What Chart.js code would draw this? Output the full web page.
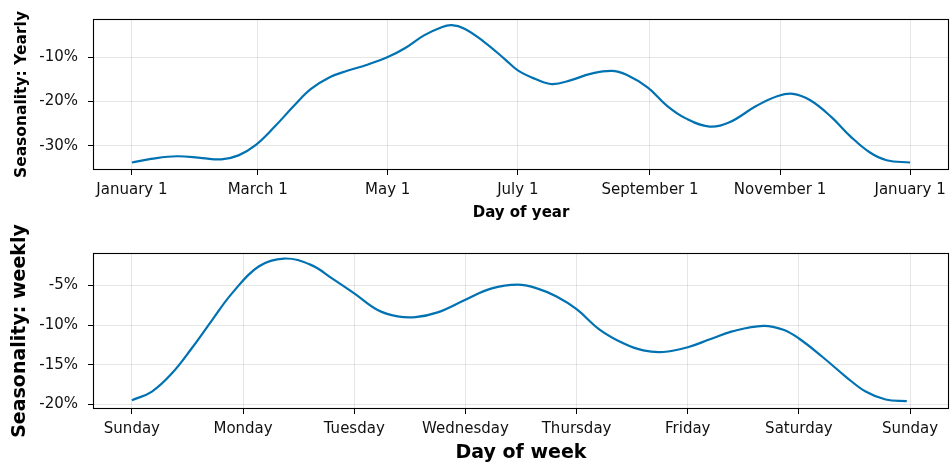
<!DOCTYPE html>
<html>
<head>
<meta charset="utf-8">
<script src="https://cdn.jsdelivr.net/npm/chart.js@4/dist/chart.umd.min.js"></script>
<style>
  html, body { margin: 0; padding: 0; background: #fff; }
  #wrap { position: relative; width: 952px; height: 468px; }
  canvas { position: absolute; left: 0; }
  #yearly { top: 0; }
  #weekly { top: 190px; }
</style>
</head>
<body>
<div id="wrap">
  <canvas id="yearly" width="952" height="234"></canvas>
  <canvas id="weekly" width="952" height="278"></canvas>
</div>
<script>
// Yearly seasonality: day of year -> effect in percent
const yearDays = [0, 9, 21, 33, 42, 50, 58, 67, 76, 84, 93, 101, 110, 120, 128, 137, 145, 150, 156, 165, 175, 181, 189, 197, 206, 215, 225, 232, 242, 251, 260, 271, 280, 293, 303, 310, 318, 328, 337, 346, 354, 365];
const yearlyValues = [-33.8, -33.0, -32.4, -32.8, -33.1, -32.2, -29.9, -25.7, -21.0, -17.2, -14.5, -13.1, -11.8, -10.0, -8.0, -5.1, -3.3, -2.8, -3.6, -6.5, -10.5, -13.0, -14.9, -16.1, -15.2, -13.8, -13.1, -14.0, -16.9, -21.0, -23.9, -25.7, -24.8, -21.0, -18.8, -18.3, -19.7, -23.5, -27.9, -31.5, -33.3, -33.8];
const yearTickDays = [0, 59, 120, 181, 243, 304, 365];
const yearTickLabels = ['January 1', 'March 1', 'May 1', 'July 1', 'September 1', 'November 1', 'January 1'];
const yearlyPctTicks = [-30, -20, -10];

// Weekly seasonality: position in week (0 = Sunday) -> effect in percent
const weekPos = [0, 0.18, 0.36, 0.54, 0.72, 0.9, 1.14, 1.37, 1.61, 1.8, 2.0, 2.21, 2.39, 2.55, 2.75, 3.0, 3.23, 3.47, 3.65, 3.82, 4.0, 4.21, 4.42, 4.6, 4.78, 5.0, 5.2, 5.4, 5.68, 5.86, 6.0, 6.21, 6.42, 6.6, 6.78, 6.97];
const weeklyValues = [-19.5, -18.4, -16.1, -12.9, -9.4, -6.0, -2.6, -1.6, -2.4, -4.1, -6.0, -8.1, -8.9, -9.0, -8.4, -6.8, -5.4, -4.9, -5.4, -6.4, -8.0, -10.6, -12.3, -13.2, -13.4, -12.8, -11.8, -10.8, -10.1, -10.6, -11.7, -14.0, -16.5, -18.4, -19.4, -19.6];
const weekTickPos = [0, 1, 2, 3, 4, 5, 6, 7];
const weekTickLabels = ['Sunday', 'Monday', 'Tuesday', 'Wednesday', 'Thursday', 'Friday', 'Saturday', 'Sunday'];
const weeklyPctTicks = [-20, -15, -10, -5];

Chart.defaults.font.family = "'DejaVu Sans', sans-serif";
Chart.defaults.color = '#000';

const LINE_COLOR = '#0072B2';
const GRID_COLOR = 'rgba(128,128,128,0.2)';

// Black box around the plotting area
const framePlugin = {
  id: 'frame',
  afterDraw(chart) {
    const { ctx, chartArea: a } = chart;
    ctx.save();
    ctx.strokeStyle = '#000';
    ctx.lineWidth = 1.1;
    ctx.strokeRect(Math.round(a.left) + 0.5, Math.round(a.top) + 0.5,
                   Math.round(a.right - a.left) - 1, Math.round(a.bottom - a.top) - 1);
    ctx.restore();
  }
};

function makeChart(id, cfg) {
  const points = cfg.xs.map((x, i) => ({ x: x, y: cfg.ys[i] }));
  return new Chart(document.getElementById(id), {
    type: 'line',
    data: {
      datasets: [{
        data: points,
        borderColor: LINE_COLOR,
        borderWidth: 2.2,
        pointRadius: 0,
        fill: false,
        tension: 0.4
      }]
    },
    options: {
      responsive: false,
      animation: false,
      devicePixelRatio: 1,
      layout: { padding: { left: 0, right: 3, top: cfg.padTop, bottom: 0 } },
      plugins: { legend: { display: false }, tooltip: { enabled: false } },
      scales: {
        x: {
          type: 'linear',
          min: cfg.xMin,
          max: cfg.xMax,
          afterBuildTicks: s => { s.ticks = cfg.xTicks.map(v => ({ value: v })); },
          afterFit: s => { s.height = cfg.xAxisHeight; },
          ticks: {
            autoSkip: false,
            maxRotation: 0,
            padding: cfg.xTickPad,
            font: { size: 15 },
            color: '#111',
            callback: (v, i) => cfg.xLabels[i]
          },
          grid: { color: GRID_COLOR, lineWidth: 1, tickLength: 5, tickColor: '#000', tickWidth: 1 },
          border: { display: false },
          title: {
            display: true,
            text: cfg.xTitle,
            font: { size: cfg.titleSize, weight: 'bold' },
            padding: { top: 0, bottom: cfg.xTitlePad }
          }
        },
        y: {
          type: 'linear',
          min: cfg.yMin,
          max: cfg.yMax,
          afterBuildTicks: s => { s.ticks = cfg.yTicks.map(v => ({ value: v })); },
          afterFit: s => { s.width = 93; },
          ticks: {
            padding: 10,
            font: { size: 15 },
            color: '#111',
            callback: v => v + '%'
          },
          grid: { color: GRID_COLOR, lineWidth: 1, tickLength: 5, tickColor: '#000', tickWidth: 1 },
          border: { display: false },
          title: {
            display: true,
            text: cfg.yTitle,
            font: { size: cfg.yTitleSize, weight: 'bold' },
            padding: { top: cfg.yTitlePad, bottom: 0 }
          }
        }
      }
    },
    plugins: [framePlugin]
  });
}

makeChart('yearly', {
  xs: yearDays, ys: yearlyValues,
  xMin: -18.25, xMax: 383.25, xTicks: yearTickDays, xLabels: yearTickLabels,
  yMin: -35.5, yMax: -1.4, yTicks: yearlyPctTicks,
  xTitle: 'Day of year', yTitle: 'Seasonality: Yearly',
  titleSize: 15, yTitleSize: 15.5, padTop: 13, xAxisHeight: 64, xTickPad: 6, xTitlePad: 12, yTitlePad: 13
});

makeChart('weekly', {
  xs: weekPos, ys: weeklyValues,
  xMin: -0.35, xMax: 7.35, xTicks: weekTickPos, xLabels: weekTickLabels,
  yMin: -20.6, yMax: -0.9, yTicks: weeklyPctTicks,
  xTitle: 'Day of week', yTitle: 'Seasonality: weekly',
  titleSize: 19, yTitleSize: 19, padTop: 63, xAxisHeight: 59, xTickPad: 6, xTitlePad: 4, yTitlePad: 9
});
</script>
</body>
</html>
